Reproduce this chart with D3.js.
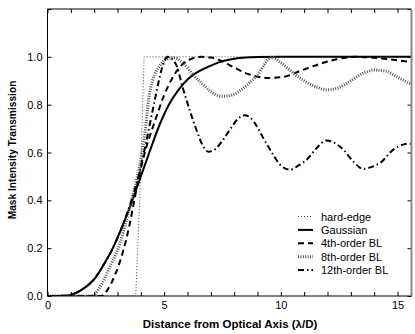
<!DOCTYPE html>
<html><head><meta charset="utf-8">
<script src="https://cdn.jsdelivr.net/npm/d3@7"></script>
<style>
body{margin:0;background:#fff;}
text{font-family:"Liberation Sans",Arial,Helvetica,sans-serif;}
</style></head>
<body><svg id="c" width="415" height="334"></svg>
<script>
// ---- data ----
const seriesNames = ["hard-edge","Gaussian","4th-order BL","8th-order BL","12th-order BL"];
const hardEdge = [[0,0],[3.78,0],[3.95,0.4],[4.05,0.7],[4.14,1.0],[15.6,1.0]];
const gaussian = [[0,0],[0.8,0.001],[1.2,0.012],[1.6,0.035],[2.0,0.07],[2.4,0.13],[2.8,0.2],[3.2,0.29],[3.6,0.39],[4.0,0.5],[4.4,0.61],[4.8,0.715],[5.2,0.8],[5.6,0.86],[6.0,0.905],[6.5,0.94],[7.0,0.963],[7.5,0.982],[8.0,0.992],[8.5,0.997],[9.0,0.999],[10,1],[15.6,1]];
const bl4 = [[0,0],[2.3,0],[2.6,0.03],[2.9,0.09],[3.25,0.19],[3.5,0.29],[3.7,0.39],[3.9,0.49],[4.2,0.61],[4.6,0.73],[5.0,0.84],[5.4,0.92],[5.8,0.97],[6.2,0.993],[6.6,1.0],[7.0,0.997],[7.4,0.985],[8.0,0.955],[8.6,0.928],[9.5,0.912],[10.2,0.918],[10.8,0.94],[11.6,0.968],[12.4,0.99],[13.2,1.0],[14.0,0.996],[14.8,0.988],[15.6,0.978]];
const bl8 = [[0,0],[1.9,0],[2.2,0.03],[2.68,0.123],[3.11,0.221],[3.39,0.319],[3.61,0.4],[3.85,0.5],[4.05,0.6],[4.2,0.7],[4.33,0.82],[4.5,0.9],[4.8,0.96],[5.1,0.99],[5.4,0.996],[5.8,0.975],[6.25,0.925],[6.6,0.89],[7.0,0.855],[7.45,0.835],[7.9,0.84],[8.4,0.87],[9.0,0.925],[9.6,0.997],[10.0,0.975],[10.5,0.935],[11.0,0.9],[11.5,0.875],[12.0,0.862],[12.5,0.872],[13.0,0.9],[13.5,0.93],[14.0,0.945],[14.5,0.94],[15.0,0.915],[15.6,0.885]];
const bl12 = [[0,0],[0.8,0.001],[1.2,0.012],[1.6,0.035],[2.0,0.07],[2.4,0.13],[2.8,0.2],[3.2,0.29],[3.6,0.4],[3.9,0.5],[4.2,0.63],[4.6,0.82],[4.9,0.95],[5.15,1.0],[5.5,0.97],[5.8,0.87],[6.1,0.775],[6.4,0.69],[6.65,0.63],[6.9,0.603],[7.2,0.615],[7.5,0.65],[7.82,0.696],[8.15,0.74],[8.45,0.756],[8.75,0.74],[8.97,0.71],[9.25,0.66],[9.54,0.612],[9.97,0.549],[10.39,0.528],[10.75,0.545],[11.11,0.57],[11.54,0.619],[11.94,0.65],[12.3,0.64],[12.68,0.612],[13.1,0.563],[13.54,0.531],[13.9,0.54],[14.25,0.556],[14.82,0.612],[15.2,0.632],[15.46,0.637],[15.6,0.637]];
const xTickLabels = [0,5,10,15];
const yTickLabels = [0.0,0.2,0.4,0.6,0.8,1.0];
const xLabel = "Distance from Optical Axis (λ/D)";
const yLabel = "Mask Intensity Transmission";

// ---- layout ----
const L=47.5, R=411.5, T=9, B=296;
const x = d3.scaleLinear().domain([0,15.6]).range([L,R]);
const y = d3.scaleLinear().domain([0,1.2]).range([B,T]);
const svg = d3.select("#c");

const styles = [
  {stroke:"#444", w:1, dash:"1,2"},
  {stroke:"#000", w:2, dash:null},
  {stroke:"#000", w:2, dash:"6,4"},
  {stroke:"#555", w:3, dash:"1,1.4"},
  {stroke:"#000", w:2, dash:"6,3,1.5,3"}
];
const data = [hardEdge, gaussian, bl4, bl8, bl12];

const line = d3.line().x(d=>x(d[0])).y(d=>y(d[1])).curve(d3.curveMonotoneX);
const lineLin = d3.line().x(d=>x(d[0])).y(d=>y(d[1]));
svg.append("clipPath").attr("id","cp").append("rect").attr("x",L).attr("y",T).attr("width",R-L).attr("height",B-T);
const g = svg.append("g").attr("clip-path","url(#cp)");
data.forEach((d,i)=>{
  g.append("path").datum(d)
   .attr("d", i===0 ? lineLin : line)
   .attr("fill","none").attr("stroke",styles[i].stroke)
   .attr("stroke-width",styles[i].w)
   .attr("stroke-dasharray",styles[i].dash);
});

const fontFam = "Liberation Sans, Arial, sans-serif";
// axes (ticks inward)
const xb = d3.axisBottom(x).tickValues(d3.range(0,16,1)).tickSize(-4)
  .tickFormat(d=> xTickLabels.includes(d)? d3.format("d")(d):"").tickPadding(5);
svg.append("g").attr("transform",`translate(0,${B})`).call(xb)
  .call(s=>{s.select(".domain").remove(); s.selectAll("text").attr("font-size",11).attr("fill","#000").attr("font-family",fontFam); s.selectAll("line").attr("stroke","#000");});
const xt = d3.axisTop(x).tickValues(d3.range(0,16,1)).tickSize(-4).tickFormat("");
svg.append("g").attr("transform",`translate(0,${T})`).call(xt).call(s=>{s.select(".domain").remove(); s.selectAll("line").attr("stroke","#000");});
const yl = d3.axisLeft(y).tickValues(d3.range(0,1.21,0.2)).tickSize(-4)
  .tickFormat(d=> { const m = yTickLabels.find(v=>Math.abs(v-d)<1e-6); return m===undefined ? "" : d3.format(".1f")(m); }).tickPadding(5);
svg.append("g").attr("transform",`translate(${L},0)`).call(yl)
  .call(s=>{s.select(".domain").remove(); s.selectAll("text").attr("font-size",11).attr("fill","#000").attr("font-family",fontFam); s.selectAll("line").attr("stroke","#000");});
const yr = d3.axisRight(y).tickValues(d3.range(0,1.21,0.2)).tickSize(-4).tickFormat("");
svg.append("g").attr("transform",`translate(${R},0)`).call(yr).call(s=>{s.select(".domain").remove(); s.selectAll("line").attr("stroke","#000");});

// frame
svg.append("line").attr("x1",L).attr("x2",R).attr("y1",B).attr("y2",B).attr("stroke","#000");
svg.append("line").attr("x1",L).attr("x2",R).attr("y1",T).attr("y2",T).attr("stroke","#000");
svg.append("line").attr("x1",L).attr("x2",L).attr("y1",T).attr("y2",B).attr("stroke","#000");
svg.append("line").attr("x1",R).attr("x2",R).attr("y1",T).attr("y2",B).attr("stroke","#888").attr("stroke-width",2);

// axis titles
svg.append("text").attr("x",230).attr("y",328).attr("text-anchor","middle")
  .attr("font-weight","bold").attr("font-size",11.5).text(xLabel);
svg.append("text").attr("transform","translate(16,150) rotate(-90)").attr("text-anchor","middle")
  .attr("font-weight","bold").attr("font-size",10.2).text(yLabel);

// legend
const lg = svg.append("g");
seriesNames.forEach((n,i)=>{
  const yy = 216.5 + 13.4*i;
  lg.append("line").attr("x1",298).attr("x2",313).attr("y1",yy).attr("y2",yy)
    .attr("stroke",styles[i].stroke).attr("stroke-width",styles[i].w).attr("stroke-dasharray",styles[i].dash);
  lg.append("text").attr("x",321).attr("y",yy+4).attr("font-size",11).text(n);
});
</script></body></html>
